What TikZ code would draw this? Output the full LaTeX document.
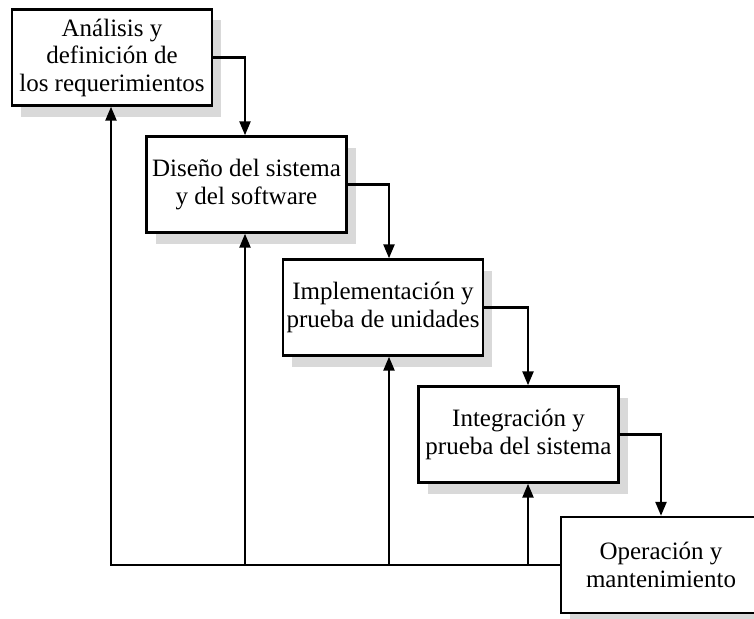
\documentclass[tikz,border=0pt]{standalone}
\usepackage{fontspec}
\setmainfont{Liberation Serif}
\usetikzlibrary{arrows.meta,shadows,positioning}

\begin{document}
\begin{tikzpicture}[
  x=1pt, y=-1pt,
  > = {Triangle[length=14pt,width=11pt]},
  phase/.style = {draw,line width=2.4pt,fill=white,minimum width=200pt,minimum height=96pt,inner sep=0pt,align=center,
    font=\fontsize{25}{27.5}\selectfont,
    general shadow={fill=black!15,shadow xshift=9pt,shadow yshift=-11pt}},
  flow/.style = {->,line width=2.4pt}
  ]
	\useasboundingbox (0,0) rectangle (754,618);

	\coordinate (@1) at (112,57.5);
	\coordinate (@2) at (246.5,184.5);
	\coordinate (@3) at (383,307.5);
	\coordinate (@4) at (518.5,434.5);
	\coordinate (@5) at (661,565);

	% columns of the arrows
	\coordinate (k1) at (111,0);
	\coordinate (k2) at (245,0);
	\coordinate (k3) at (389,0);
	\coordinate (k4) at (528,0);
	\coordinate (k5) at (661,0);

	\node[phase] (analisis) at (@1) {Análisis y\\definición de\\los requerimientos};
	\node[phase] (diseno) at (@2) {Diseño del sistema\\y del software};
	\node[phase] (implementacion) at (@3) {Implementación y\\prueba de unidades};
	\node[phase] (integracion) at (@4) {Integración y\\prueba del sistema};
	\node[phase] (operacion) at (@5) {Operación y\\mantenimiento};

	\draw[flow] (analisis.east) -| (diseno.north -| k2);
	\draw[flow] (diseno.east) -| (implementacion.north -| k3);
	\draw[flow] (implementacion.east) -| (integracion.north -| k4);
	\draw[flow] (integracion.east) -| (operacion.north -| k5);

	\draw[flow] (operacion.west) -| (analisis.south -| k1);
	\draw[flow] (operacion.west -| k2) -- (diseno.south -| k2);
	\draw[flow] (operacion.west -| k3) -- (implementacion.south -| k3);
	\draw[flow] (operacion.west -| k4) -- (integracion.south -| k4);

\end{tikzpicture}
\end{document}
